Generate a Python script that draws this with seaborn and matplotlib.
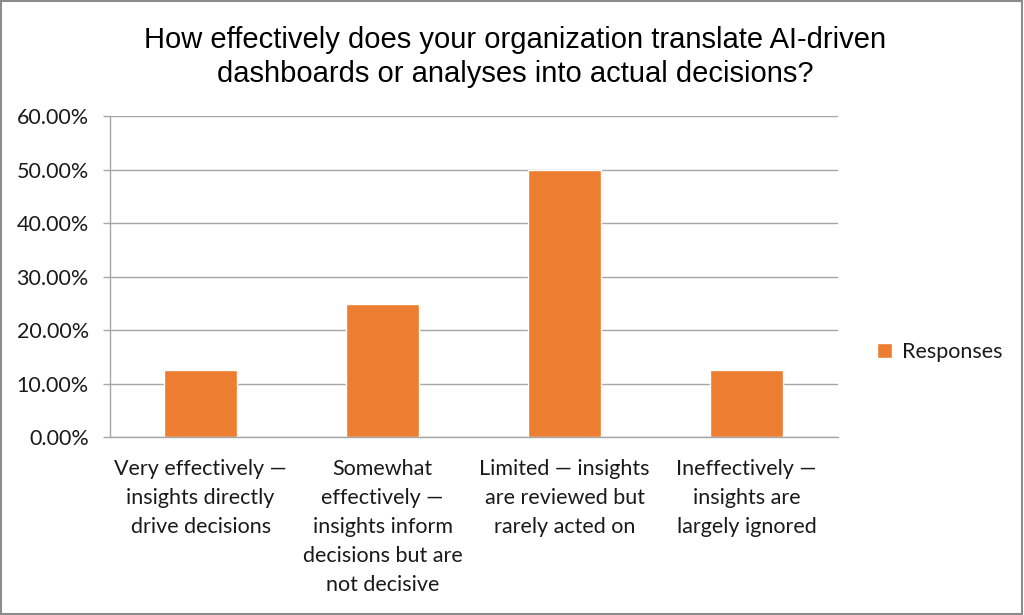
import matplotlib
matplotlib.use("Agg")
import matplotlib.pyplot as plt
import seaborn as sns
from matplotlib.patches import Rectangle
from matplotlib.ticker import FuncFormatter, MultipleLocator

# Chart data
categories = [
    "Very effectively —\ninsights directly\ndrive decisions",
    "Somewhat\neffectively —\ninsights inform\ndecisions but are\nnot decisive",
    "Limited — insights\nare reviewed but\nrarely acted on",
    "Ineffectively —\ninsights are\nlargely ignored",
]
responses = [0.125, 0.25, 0.50, 0.125]
series_name = "Responses"
title = "How effectively does your organization translate AI-driven\ndashboards or analyses into actual decisions?"

BAR_COLOR = "#ED7D31"
GRID_COLOR = "#A6A6A6"
TEXT_COLOR = "#1a1a1a"

sns.set_theme(style="white")
plt.rcParams["font.family"] = ["Lato", "DejaVu Sans"]

fig = plt.figure(figsize=(10.24, 6.15), dpi=100)
ax = fig.add_axes([0.107, 0.289, 0.711, 0.522])

sns.barplot(x=list(range(len(categories))), y=responses, color=BAR_COLOR,
            width=0.4, saturation=1, label=series_name, ax=ax)

ax.set_ylim(0, 0.6)
ax.set_xlim(-0.5, len(categories) - 0.5)
ax.yaxis.set_major_locator(MultipleLocator(0.1))
ax.yaxis.set_major_formatter(FuncFormatter(lambda v, _: f"{v * 100:.2f}%"))
ax.grid(axis="y", color=GRID_COLOR, linewidth=1)
ax.set_axisbelow(True)

for side in ["top", "right"]:
    ax.spines[side].set_visible(False)
for side in ["left", "bottom"]:
    ax.spines[side].set_color(GRID_COLOR)
    ax.spines[side].set_linewidth(1)

ax.set_xticks(range(len(categories)))
ax.set_xticklabels(categories, fontsize=15.5, color=TEXT_COLOR, linespacing=1.55,
                   va="top")
ax.set_xticks([i - 0.5 for i in range(len(categories) + 1)], minor=True)
ax.tick_params(axis="x", which="major", length=0, pad=16)
ax.tick_params(axis="x", which="minor", length=5, color=GRID_COLOR, width=1)
ax.tick_params(axis="y", length=5, color=GRID_COLOR, width=1, labelsize=15.5,
               labelcolor=TEXT_COLOR, pad=10, left=True)
ax.set_xlabel("")
ax.set_ylabel("")

fig.text(0.503, 0.907, title, ha="center", va="center", fontsize=21,
         family=["Liberation Sans", "DejaVu Sans"], color="#000000",
         linespacing=1.3)

leg = ax.legend(loc="center left", bbox_to_anchor=(1.027, 0.265), frameon=False,
                fontsize=15.5, handlelength=0.7, handleheight=0.7, handletextpad=0.5)
for t in leg.get_texts():
    t.set_color(TEXT_COLOR)

fig.patches.append(Rectangle((0.001, 0.001), 0.997, 0.997, transform=fig.transFigure,
                             fill=False, edgecolor="#8C8C8C", linewidth=1.5))

fig.savefig("out.png", dpi=100)
plt.close(fig)
